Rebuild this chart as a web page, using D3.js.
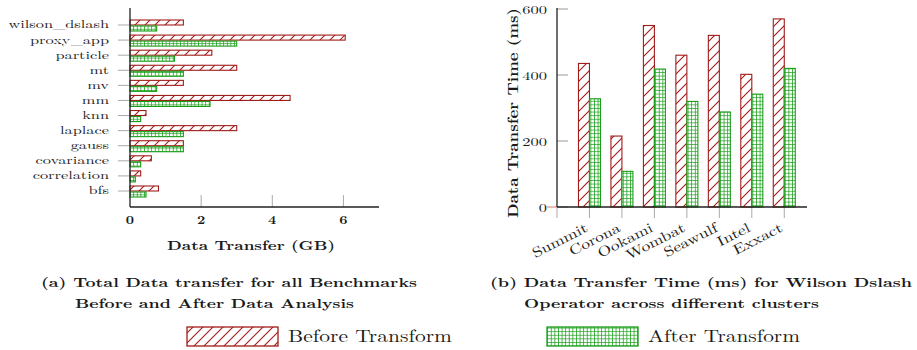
<!DOCTYPE html>
<html>
<head>
<meta charset="utf-8">
<script src="https://cdn.jsdelivr.net/npm/d3@7"></script>
<style>
  html, body { margin: 0; padding: 0; background: #fff; }
  svg { display: block; }
</style>
</head>
<body>
<svg id="chart" width="917" height="350"></svg>
<script>
// ---- Panel (a): total data transfer per benchmark (GB) ----
const benchmarks = ["wilson_dslash", "proxy_app", "particle", "mt", "mv", "mm",
                    "knn", "laplace", "gauss", "covariance", "correlation", "bfs"];
const gbBefore = [1.5, 6.05, 2.3, 3.0, 1.5, 4.5, 0.45, 3.0, 1.5, 0.6, 0.3, 0.8];
const gbAfter  = [0.75, 3.0, 1.25, 1.5, 0.75, 2.25, 0.3, 1.5, 1.5, 0.3, 0.15, 0.45];
const gbTicks  = [0, 2, 4, 6];

// ---- Panel (b): Wilson Dslash transfer time per cluster (ms) ----
const clusters = ["Summit", "Corona", "Ookami", "Wombat", "Seawulf", "Intel", "Exxact"];
const msBefore = [435, 215, 550, 460, 520, 402, 570];
const msAfter  = [328, 108, 418, 320, 288, 342, 420];
const msTicks  = [0, 200, 400, 600];

const seriesNames = ["Before Transform", "After Transform"];

const RED = "rgb(160,28,26)";
const GREEN = "rgb(24,158,24)";
const FONT = "'Latin Modern Roman', 'Liberation Serif', serif";

const svg = d3.select("#chart");
const defs = svg.append("defs");

// Text helpers: widen glyphs by a factor, or set an exact run length.
function widen(sel, sx) {
  sel.each(function () {
    const w = this.getComputedTextLength();
    this.setAttribute("textLength", (w * sx).toFixed(1));
    this.setAttribute("lengthAdjust", "spacingAndGlyphs");
  });
  return sel;
}
function fitTo(sel, len) {
  sel.attr("textLength", len).attr("lengthAdjust", "spacingAndGlyphs");
  return sel;
}
function txt(parent, size, bold) {
  return parent.append("text")
    .style("font-family", FONT)
    .style("font-weight", bold ? "bold" : "normal")
    .attr("font-size", size)
    .attr("fill", "#1a1a1a");
}

// diagonal hatch for the "before" series
const hatch = defs.append("pattern")
  .attr("id", "hatch").attr("patternUnits", "userSpaceOnUse")
  .attr("width", 10).attr("height", 10);
hatch.append("rect").attr("width", 10).attr("height", 10).attr("fill", "#fff");
hatch.append("path")
  .attr("d", "M-1,11 L11,-1 M-3,3 L3,-3 M7,13 L13,7")
  .attr("stroke", RED).attr("stroke-width", 1.1);

// fine grid for the "after" series
const gs = 3.6;
const grid = defs.append("pattern")
  .attr("id", "grid").attr("patternUnits", "userSpaceOnUse")
  .attr("width", gs).attr("height", gs);
grid.append("rect").attr("width", gs).attr("height", gs).attr("fill", "#fff");
grid.append("path")
  .attr("d", `M0,0 H${gs} M0,0 V${gs}`)
  .attr("stroke", GREEN).attr("stroke-width", 1.5);

// ================= Panel (a) =================
const ax = d3.scaleLinear().domain([0, 7]).range([130, 379]);
const ay = d3.scalePoint().domain(benchmarks).range([25, 191]);
const aTop = 8, aBottom = 207;

const ga = svg.append("g");

// category ticks (outside, left)
ga.selectAll("line.ytick").data(benchmarks).join("line")
  .attr("x1", 118).attr("x2", 130)
  .attr("y1", d => ay(d)).attr("y2", d => ay(d))
  .attr("stroke", "#aaa").attr("stroke-width", 1);

benchmarks.forEach(b => {
  widen(txt(ga, 11.5, false)
    .attr("x", 109).attr("y", ay(b)).attr("dy", "0.3em")
    .attr("text-anchor", "end").text(b), 1.42);
});

// value ticks (inside, pointing up)
ga.selectAll("line.xtick").data(gbTicks.filter(t => t > 0)).join("line")
  .attr("x1", d => ax(d)).attr("x2", d => ax(d))
  .attr("y1", aBottom - 12).attr("y2", aBottom)
  .attr("stroke", "#aaa").attr("stroke-width", 1);

gbTicks.forEach(t => {
  widen(txt(ga, 12, true)
    .attr("x", ax(t)).attr("y", 224)
    .attr("text-anchor", "middle").text(t), 1.2);
});

// bars
ga.selectAll("rect.before").data(benchmarks).join("rect")
  .attr("x", ax(0))
  .attr("y", d => ay(d) - 5)
  .attr("width", (d, i) => ax(gbBefore[i]) - ax(0))
  .attr("height", 5)
  .attr("fill", "url(#hatch)").attr("stroke", RED).attr("stroke-width", 1.1);

ga.selectAll("rect.after").data(benchmarks).join("rect")
  .attr("x", ax(0))
  .attr("y", d => ay(d) + 1)
  .attr("width", (d, i) => ax(gbAfter[i]) - ax(0))
  .attr("height", 5)
  .attr("fill", "url(#grid)").attr("stroke", GREEN).attr("stroke-width", 1.1);

// axis lines
ga.append("line").attr("x1", 130).attr("x2", 130).attr("y1", aTop).attr("y2", aBottom)
  .attr("stroke", "#222").attr("stroke-width", 1.3);
ga.append("line").attr("x1", 130).attr("x2", 379).attr("y1", aBottom).attr("y2", aBottom)
  .attr("stroke", "#222").attr("stroke-width", 1.3);

fitTo(txt(ga, 13, true)
  .attr("x", 167).attr("y", 250)
  .text("Data Transfer (GB)"), 168);

// ================= Panel (b) =================
const bx = d3.scaleLinear().domain([0, 7.7]).range([557, 807]);
const by = d3.scaleLinear().domain([0, 600]).range([207, 9]);
const barW = 11;

const gb = svg.append("g");

// y ticks (inside, right of the axis)
gb.selectAll("line.ytick").data(msTicks).join("line")
  .attr("x1", 557).attr("x2", 568)
  .attr("y1", d => by(d)).attr("y2", d => by(d))
  .attr("stroke", "#999").attr("stroke-width", 1);
gb.append("line").attr("x1", 547).attr("x2", 557)
  .attr("y1", by(0)).attr("y2", by(0))
  .attr("stroke", "rgb(220,120,110)").attr("stroke-width", 1);

msTicks.forEach(t => {
  widen(txt(gb, 12, false)
    .attr("x", 547).attr("y", by(t)).attr("dy", "0.42em")
    .attr("text-anchor", "end").text(t), 1.37);
});

// x ticks (outside, below)
gb.selectAll("line.xtick").data(d3.range(0, clusters.length + 1)).join("line")
  .attr("x1", d => bx(d)).attr("x2", d => bx(d))
  .attr("y1", 207).attr("y2", 218)
  .attr("stroke", "#aaa").attr("stroke-width", 1);

clusters.forEach((c, i) => {
  widen(txt(gb, 14, false)
    .attr("text-anchor", "end")
    .attr("transform", `translate(${bx(i + 1) - 5},${222}) rotate(-27)`)
    .attr("dy", "0.7em")
    .text(c), 1.25);
});

gb.selectAll("rect.before").data(clusters).join("rect")
  .attr("x", (d, i) => bx(i + 1) - barW)
  .attr("y", (d, i) => by(msBefore[i]))
  .attr("width", barW)
  .attr("height", (d, i) => by(0) - by(msBefore[i]))
  .attr("fill", "url(#hatch)").attr("stroke", RED).attr("stroke-width", 1.1);

gb.selectAll("rect.after").data(clusters).join("rect")
  .attr("x", (d, i) => bx(i + 1))
  .attr("y", (d, i) => by(msAfter[i]))
  .attr("width", barW)
  .attr("height", (d, i) => by(0) - by(msAfter[i]))
  .attr("fill", "url(#grid)").attr("stroke", GREEN).attr("stroke-width", 1.1);

gb.append("line").attr("x1", 557).attr("x2", 557).attr("y1", 8).attr("y2", 207)
  .attr("stroke", "#222").attr("stroke-width", 1.3);
gb.append("line").attr("x1", 557).attr("x2", 807).attr("y1", 207).attr("y2", 207)
  .attr("stroke", "#222").attr("stroke-width", 1.3);

fitTo(txt(gb, 14, true)
  .attr("transform", "translate(518,218) rotate(-90)")
  .text("Data Transfer Time (ms)"), 210);

// ================= Captions =================
const captions = [
  { x: 41, y: 287, len: 376, s: "(a) Total Data transfer for all Benchmarks" },
  { x: 75, y: 308, len: 279, s: "Before and After Data Analysis" },
  { x: 490, y: 287, len: 422, s: "(b) Data Transfer Time (ms) for Wilson Dslash" },
  { x: 524, y: 308, len: 295, s: "Operator across different clusters" }
];
captions.forEach(c => {
  fitTo(txt(svg, 13, true).attr("x", c.x).attr("y", c.y).text(c.s), c.len);
});

// ================= Legend =================
const legend = svg.append("g");
const legendItems = [
  { name: seriesNames[0], fill: "url(#hatch)", stroke: RED, x: 187, tx: 288, len: 164 },
  { name: seriesNames[1], fill: "url(#grid)", stroke: GREEN, x: 547, tx: 648, len: 152 }
];
legendItems.forEach(it => {
  legend.append("rect")
    .attr("x", it.x).attr("y", 327).attr("width", 91).attr("height", 19)
    .attr("fill", it.fill).attr("stroke", it.stroke).attr("stroke-width", 1.3);
  fitTo(txt(legend, 17, false)
    .attr("x", it.tx).attr("y", 342)
    .text(it.name), it.len);
});
</script>
</body>
</html>
